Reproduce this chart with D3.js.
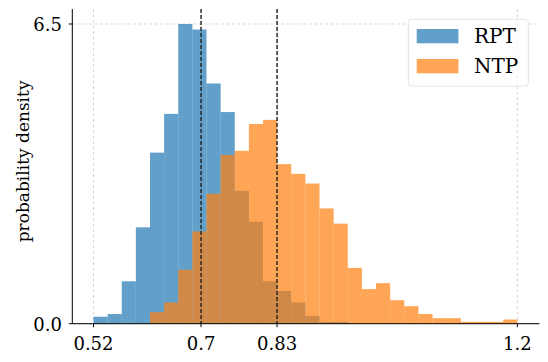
<!DOCTYPE html>
<html>
<head>
<meta charset="utf-8">
<script src="https://cdn.jsdelivr.net/npm/d3@7"></script>
<style>
  body { margin: 0; background: #fff; }
  text { font-family: "DejaVu Serif", serif; fill: #000; }
</style>
</head>
<body>
<div id="chart"></div>
<script>
// histogram data, 30 shared bins between the overall min and max
var dataMin = 0.516;
var dataMax = 1.241;
var binCount = 30;

var seriesNames = ["RPT", "NTP"];
var seriesColors = ["#1f77b4", "#ff7f0e"];

var rptDensity = [0.15, 0.21, 0.92, 2.09, 3.71, 4.55, 6.5, 6.38, 5.21, 4.59,
                  2.88, 2.21, 0.92, 0.71, 0.46, 0.17, 0.04, 0.04, 0, 0,
                  0, 0, 0, 0, 0, 0, 0, 0, 0, 0];
var ntpDensity = [0, 0, 0, 0, 0.25, 0.46, 1.17, 2.0, 2.82, 3.66,
                  3.75, 4.33, 4.42, 3.46, 3.25, 3.04, 2.5, 2.17, 1.21, 0.75,
                  0.88, 0.51, 0.38, 0.21, 0.12, 0.12, 0.04, 0.04, 0.04, 0.09];

var means = [0.700, 0.830];

var xTickValues = [0.516, 0.700, 0.830, 1.241];
var xTickLabels = ["0.52", "0.7", "0.83", "1.2"];
var yTickValues = [0, 6.5];
var yTickLabels = ["0.0", "6.5"];

var width = 548;
var height = 362;
var plotLeft = 72.3, plotRight = 538.5, plotTop = 9, plotBottom = 323.7;

var svg = d3.select("#chart").append("svg")
    .attr("width", width)
    .attr("height", height);

var span = dataMax - dataMin;
var x = d3.scaleLinear()
    .domain([dataMin - 0.05 * span, dataMax + 0.05 * span])
    .range([plotLeft, plotRight]);
var y = d3.scaleLinear()
    .domain([0, 6.5 * 1.05])
    .range([plotBottom, plotTop]);

var binWidth = span / binCount;
function binned(values) {
    return values.map(function(v, i) {
        return { x0: dataMin + i * binWidth, x1: dataMin + (i + 1) * binWidth, v: v };
    });
}

// grid
var grid = svg.append("g");
grid.selectAll("line.gx").data(xTickValues).enter().append("line")
    .attr("x1", function(d) { return x(d); })
    .attr("x2", function(d) { return x(d); })
    .attr("y1", plotTop)
    .attr("y2", plotBottom)
    .style("stroke", "#cccccc")
    .style("stroke-width", 0.8)
    .style("stroke-dasharray", "3,2.5");
grid.selectAll("line.gy").data(yTickValues).enter().append("line")
    .attr("x1", plotLeft)
    .attr("x2", plotRight)
    .attr("y1", function(d) { return y(d); })
    .attr("y2", function(d) { return y(d); })
    .style("stroke", "#cccccc")
    .style("stroke-width", 0.8)
    .style("stroke-dasharray", "3,2.5");

// bars
[rptDensity, ntpDensity].forEach(function(values, k) {
    svg.append("g").selectAll("rect")
        .data(binned(values).filter(function(d) { return d.v > 0; }))
        .enter().append("rect")
        .attr("x", function(d) { return x(d.x0); })
        .attr("width", function(d) { return x(d.x1) - x(d.x0); })
        .attr("y", function(d) { return y(d.v); })
        .attr("height", function(d) { return y(0) - y(d.v); })
        .style("fill", seriesColors[k])
        .style("fill-opacity", 0.7);
});

// mean lines
svg.append("g").selectAll("line").data(means).enter().append("line")
    .attr("x1", function(d) { return x(d); })
    .attr("x2", function(d) { return x(d); })
    .attr("y1", plotTop)
    .attr("y2", plotBottom)
    .style("stroke", "#222")
    .style("stroke-width", 1.4)
    .style("stroke-dasharray", "4,2");

// spines
svg.append("line")
    .attr("x1", plotLeft).attr("x2", plotLeft).attr("y1", plotTop).attr("y2", plotBottom)
    .style("stroke", "#000").style("stroke-width", 1);
svg.append("line")
    .attr("x1", plotLeft).attr("x2", plotRight + 1).attr("y1", plotBottom).attr("y2", plotBottom)
    .style("stroke", "#000").style("stroke-width", 1);

// x ticks
var xt = svg.append("g").selectAll("g").data(xTickValues).enter().append("g");
xt.append("line")
    .attr("x1", function(d) { return x(d); })
    .attr("x2", function(d) { return x(d); })
    .attr("y1", plotBottom)
    .attr("y2", plotBottom + 3.5)
    .style("stroke", "#000");
xt.append("text")
    .attr("x", function(d) { return x(d); })
    .attr("y", 349.5)
    .attr("text-anchor", "middle")
    .style("font-size", "18px")
    .text(function(d, i) { return xTickLabels[i]; });

// y ticks
var yt = svg.append("g").selectAll("g").data(yTickValues).enter().append("g");
yt.append("line")
    .attr("x1", plotLeft - 3.5)
    .attr("x2", plotLeft)
    .attr("y1", function(d) { return y(d); })
    .attr("y2", function(d) { return y(d); })
    .style("stroke", "#000");
yt.append("text")
    .attr("x", 62)
    .attr("y", function(d) { return y(d) + 7.5; })
    .attr("text-anchor", "end")
    .style("font-size", "18px")
    .text(function(d, i) { return yTickLabels[i]; });

// y label
svg.append("text")
    .attr("transform", "translate(29,161.4) rotate(-90)")
    .attr("text-anchor", "middle")
    .style("font-size", "17px")
    .text("probability density");

// legend
var legend = svg.append("g");
legend.append("rect")
    .attr("x", 408.3).attr("y", 19.3)
    .attr("width", 120).attr("height", 66.7)
    .attr("rx", 3)
    .style("fill", "#fff").style("fill-opacity", 0.8)
    .style("stroke", "#dddddd").style("stroke-width", 0.8);
var li = legend.selectAll("g.item").data(seriesNames).enter().append("g");
li.append("rect")
    .attr("x", 416.7)
    .attr("y", function(d, i) { return 29 + i * 30; })
    .attr("width", 41.7)
    .attr("height", 14.3)
    .style("fill", function(d, i) { return seriesColors[i]; })
    .style("fill-opacity", 0.7);
li.append("text")
    .attr("x", 474)
    .attr("y", function(d, i) { return 43.3 + i * 30; })
    .style("font-size", "20px")
    .text(function(d) { return d; });
</script>
</body>
</html>
